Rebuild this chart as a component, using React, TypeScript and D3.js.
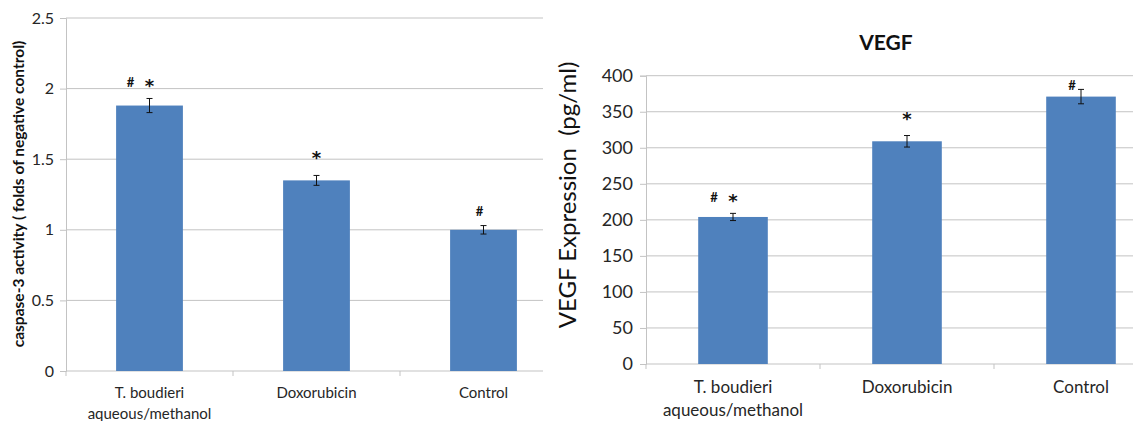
import React, { useEffect, useRef } from "react";
import * as d3 from "d3";

// shared categories
const categories = ["T. boudieri|aqueous/methanol", "Doxorubicin", "Control"];

// caspase-3 panel
const caspaseValues = [1.88, 1.35, 1.0];
const caspaseErrors = [0.05, 0.035, 0.03];
const caspaseMarks = ["# *", "*", "#"];
const caspaseMarkLevels = [2.05, 1.54, 1.13];
const caspaseTicks = [0, 0.5, 1, 1.5, 2, 2.5];

// VEGF panel
const vegfValues = [204, 309, 371];
const vegfErrors = [5, 8, 10];
const vegfMarks = ["# *", "*", "#"];
const vegfMarkLevels = [232, 346, 387];
const vegfTicks = [0, 50, 100, 150, 200, 250, 300, 350, 400];

const FONT = "Lato, 'Open Sans', sans-serif";
const BAR = "#4f81bd";
const GRID = "#c3c3c3";
const TEXT = "#262626";

type Panel = {
  x0: number; x1: number; clipX: number;
  y0: number; y1: number; max: number;
  values: number[]; errors: number[]; marks: string[]; levels: number[]; ticks: number[];
  tickFont: number; catFont: number; singleDx: number;
};

function drawPanel(svg: d3.Selection<SVGSVGElement, unknown, null, undefined>, p: Panel) {
  const x = d3.scaleBand<string>().domain(categories).range([p.x0, p.x1])
    .paddingInner(0.6).paddingOuter(0.3);
  const y = d3.scaleLinear().domain([0, p.max]).range([p.y0, p.y1]);
  const g = svg.append("g");

  // gridlines
  g.selectAll("line.grid").data(p.ticks.filter(t => t > 0)).enter().append("line")
    .attr("x1", p.x0).attr("x2", p.clipX)
    .attr("y1", d => y(d)).attr("y2", d => y(d))
    .attr("stroke", GRID).attr("stroke-width", 1);

  // y axis
  const yAxis = d3.axisLeft(y).tickValues(p.ticks).tickSize(6).tickPadding(p.tickFont > 16 ? 7 : 6)
    .tickFormat(d => String(d));
  const ya = g.append("g").attr("transform", `translate(${p.x0},0)`).call(yAxis);
  ya.select(".domain").attr("stroke", GRID);
  ya.selectAll(".tick line").attr("stroke", GRID);
  ya.selectAll(".tick text").attr("fill", TEXT).attr("font-family", FONT).attr("font-size", p.tickFont);

  // x axis baseline and category ticks
  g.append("line").attr("x1", p.x0).attr("x2", p.clipX).attr("y1", y(0)).attr("y2", y(0))
    .attr("stroke", GRID);
  const step = x.step();
  const bounds = d3.range(categories.length + 1).map(i => p.x0 + i * step).filter(v => v < p.clipX);
  g.selectAll("line.ct").data(bounds).enter().append("line")
    .attr("x1", d => d).attr("x2", d => d).attr("y1", y(0)).attr("y2", y(0) + 5)
    .attr("stroke", GRID);

  // bars
  g.selectAll("rect.bar").data(p.values).enter().append("rect")
    .attr("x", (d, i) => x(categories[i])!)
    .attr("width", x.bandwidth())
    .attr("y", d => y(d))
    .attr("height", d => y(0) - y(d))
    .attr("fill", BAR);

  // error bars
  p.values.forEach((v, i) => {
    const cx = x(categories[i])! + x.bandwidth() / 2;
    const top = y(v + p.errors[i]);
    const bot = y(v - p.errors[i]);
    g.append("line").attr("x1", cx).attr("x2", cx).attr("y1", top).attr("y2", bot)
      .attr("stroke", "#111").attr("stroke-width", 1);
    [top, bot].forEach(yy => g.append("line").attr("x1", cx - 3).attr("x2", cx + 3)
      .attr("y1", yy).attr("y2", yy).attr("stroke", "#111").attr("stroke-width", 1));

    // significance marks
    const m = p.marks[i];
    const ly = y(p.levels[i]);
    const syms = m.split(" ");
    syms.forEach((s, k) => {
      let dx = 0;
      if (syms.length === 2) dx = k === 0 ? -19 : 0;
      else if (s === "#") dx = p.singleDx;
      const star = s === "*";
      g.append("text").attr("x", cx + dx)
        .attr("y", star ? ly + 10 : ly + 5)
        .attr("text-anchor", "middle")
        .attr("font-family", star ? "'DejaVu Sans', sans-serif" : FONT)
        .attr("font-weight", "bold")
        .attr("font-size", star ? 18 : 13)
        .attr("fill", "#111").text(s);
    });

    // category label
    const lines = categories[i].split("|");
    const t = g.append("text").attr("text-anchor", "middle")
      .attr("font-family", FONT).attr("font-size", p.catFont).attr("fill", TEXT);
    lines.forEach((ln, k) => t.append("tspan").attr("x", cx)
      .attr("y", y(0) + p.catFont + 12 + k * (p.catFont + 6)).text(ln));
  });

  return { x, y };
}

export default function App() {
  const ref = useRef<SVGSVGElement>(null);

  useEffect(() => {
    const svg = d3.select(ref.current!);
    svg.selectAll("*").remove();
    svg.append("rect").attr("width", 1133).attr("height", 421).attr("fill", "#fff");

    drawPanel(svg, {
      x0: 66, x1: 567, clipX: 543, y0: 371, y1: 18, max: 2.5,
      values: caspaseValues, errors: caspaseErrors, marks: caspaseMarks,
      levels: caspaseMarkLevels, ticks: caspaseTicks, tickFont: 16, catFont: 15, singleDx: -4,
    });
    drawPanel(svg, {
      x0: 646, x1: 1168, clipX: 1133, y0: 364, y1: 75.7, max: 400,
      values: vegfValues, errors: vegfErrors, marks: vegfMarks,
      levels: vegfMarkLevels, ticks: vegfTicks, tickFont: 18, catFont: 17, singleDx: -9,
    });

    // left y label
    svg.append("text")
      .attr("transform", "translate(24,194) rotate(-90)")
      .attr("text-anchor", "middle")
      .attr("font-family", FONT).attr("font-weight", "bold").attr("font-size", 15.5)
      .attr("fill", "#111")
      .text("caspase-3 activity ( folds of negative control)");

    // right title and y label
    svg.append("text").attr("x", 886).attr("y", 50).attr("text-anchor", "middle")
      .attr("font-family", FONT).attr("font-weight", "bold").attr("font-size", 21)
      .attr("fill", "#111").text("VEGF");
    svg.append("text")
      .attr("transform", "translate(576,195) rotate(-90)")
      .attr("text-anchor", "middle")
      .attr("font-family", FONT).attr("font-size", 24)
      .attr("fill", "#111")
      .attr("xml:space", "preserve")
      .style("white-space", "pre")
      .text("VEGF Expression  (pg/ml)");
  }, []);

  return (
    <svg ref={ref} width={1133} height={421}
      style={{ position: "absolute", left: 0, top: 0, display: "block" }} />
  );
}
